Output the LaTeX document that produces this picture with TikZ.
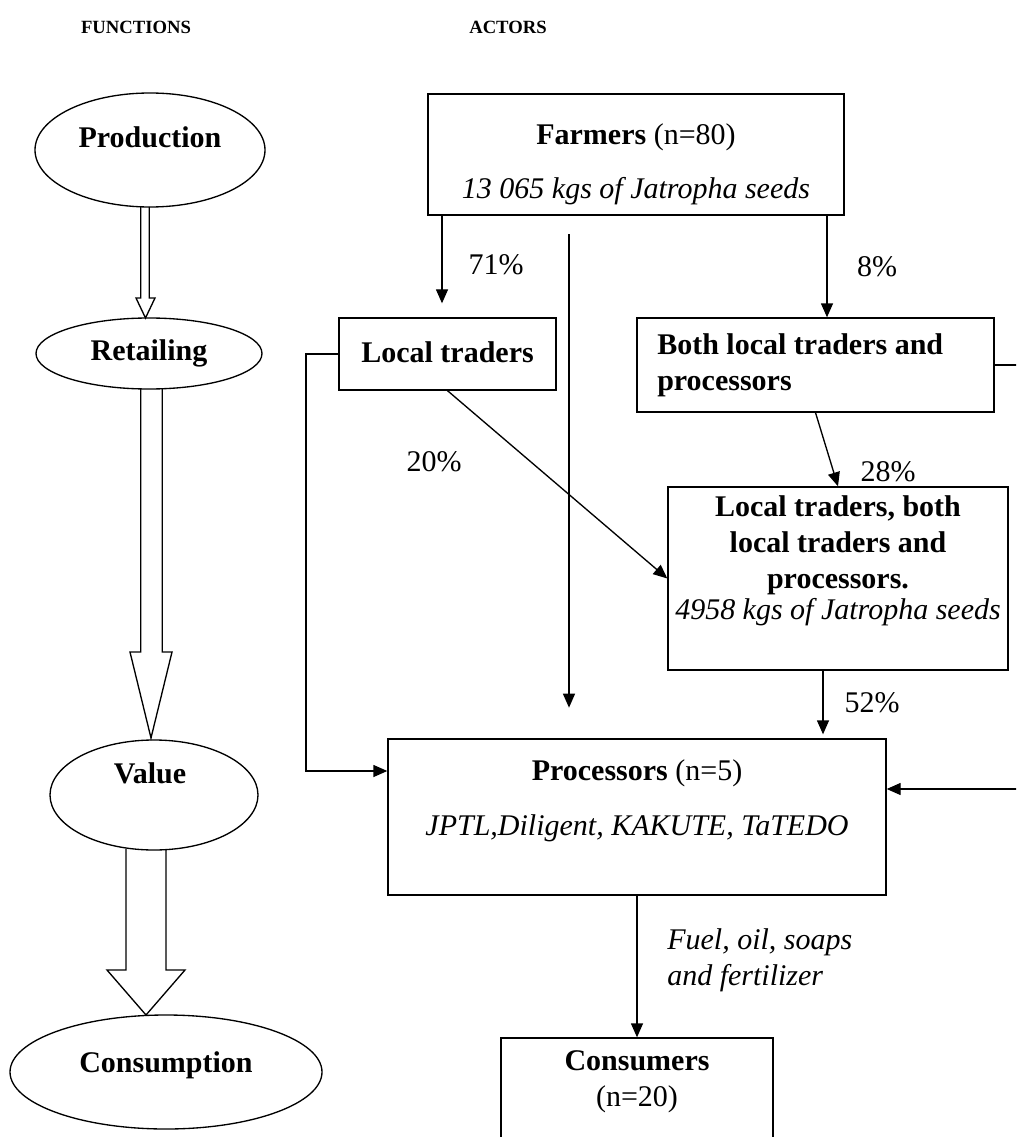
\documentclass[tikz,border=0pt]{standalone}
\usepackage{fontspec}
\setmainfont{Liberation Serif}
\usetikzlibrary{shapes.geometric,arrows.meta,calc}
\newcommand\mytxt{\fontsize{22.5}{27}\selectfont}
\newcommand\mytitle{\fontsize{14}{17}\selectfont}
\def\pxu{0.75pt}
\begin{document}
\begin{tikzpicture}[x=0.75pt,y=-0.75pt,
  box/.style={draw, line width=1pt, rectangle, inner sep=0pt},
  ell/.style={draw, ellipse, line width=1pt, inner sep=0pt},
  txt/.style={inner sep=0pt, font=\mytxt},
  ttl/.style={inner sep=0pt, font=\mytitle\bfseries},
  arr/.style={-{Triangle[length=10.5pt,width=9pt]}, line width=1pt},
  plain/.style={line width=1pt},
  hollow/.style={draw, line width=1pt, line join=miter}]
\useasboundingbox (0,0) rectangle (1016,1137);
\clip (0,0) rectangle (1016,1137);

% titles
\node[ttl] (tfun) at (136,27) {FUNCTIONS};
\node[ttl] (tact) at (508,27) {ACTORS};

% function ellipses
\node[ell, minimum width=230*\pxu, minimum height=114*\pxu] (prod) at (150,150) {};
\node[txt] (prodt) at (150,137) {\textbf{Production}};
\node[ell, minimum width=226*\pxu, minimum height=71*\pxu] (ret) at (149,353.5) {};
\node[txt] (rett) at (149,353) {\textbf{Retailing}};
\node[ell, minimum width=208*\pxu, minimum height=110*\pxu] (val) at (154,795) {};
\node[txt] (valt) at (150,773) {\textbf{Value}};
\node[ell, minimum width=312*\pxu, minimum height=114*\pxu] (cons) at (166,1072) {};
\node[txt] (const) at (166,1065) {\textbf{Consumption}};

% hollow block arrows
\draw[hollow] (140.7,207) -- (140.7,298) -- (136,298) -- (145.5,318) -- (155,298) -- (149.3,298) -- (149.3,207);
\draw[hollow] (140.7,389) -- (140.7,652) -- (130,652) -- (151,738) -- (172,652) -- (162.3,652) -- (162.3,389);
\draw[hollow] (126,849) -- (126,970) -- (107,970) -- (146,1015) -- (185,970) -- (166,970) -- (166,849);

% actor boxes
\node[box, minimum width=416*\pxu, minimum height=121*\pxu] (farm) at (636,154.5) {};
\node[txt] (farmt1) at (636,137) {\textbf{Farmers} (n=80)};
\node[txt] (farmt2) at (636,191) {\itshape 13 065 kgs of Jatropha seeds};

\node[box, minimum width=217*\pxu, minimum height=72*\pxu] (lt) at (447.5,354) {};
\node[txt] (ltt) at (447.5,352) {\textbf{Local traders}};

\node[box, minimum width=357*\pxu, minimum height=94*\pxu] (both) at (815.5,365) {};
\node[txt, anchor=west, align=left] (botht) at (657,365) {\textbf{Both local traders and}\\\textbf{processors}};

\node[box, minimum width=340*\pxu, minimum height=183*\pxu] (ltb) at (838,578.5) {};
\node[txt, align=center] (ltbt) at (838,561) {\textbf{Local traders, both}\\\textbf{local traders and}\\\textbf{processors.}\\[-4pt]\itshape 4958 kgs of Jatropha seeds};

\node[box, minimum width=498*\pxu, minimum height=156*\pxu] (proc) at (637,817) {};
\node[txt] (proct1) at (637,773) {\textbf{Processors} (n=5)};
\node[txt] (proct2) at (637,828) {\itshape JPTL,Diligent, KAKUTE, TaTEDO};

\node[box, minimum width=272*\pxu, minimum height=110*\pxu] (consu) at (637,1093) {};
\node[txt, align=center] (consut) at (637,1082) {\textbf{Consumers}\\(n=20)};

% helper coordinates
\coordinate (x71) at (442,0);
\coordinate (xlong) at (569,0);
\coordinate (x8) at (827,0);
\coordinate (x52) at (823,0);
\coordinate (lbend) at (306,771);
\coordinate (rbend) at (1030,789);

% connectors
\draw[arr, shorten >=10.5pt] (farm.south -| x71) -- (lt.north -| x71);
\draw[arr, shorten <=14pt, shorten >=23pt] (farm.south -| xlong) -- (proc.north -| xlong);
\draw[arr] (farm.south -| x8) -- (both.north -| x8);
\draw[arr] (lt.south) -- (ltb.west);
\draw[arr] (both.south) -- (ltb.north);
\draw[arr, shorten >=3pt] (ltb.south -| x52) -- (proc.north -| x52);
\draw[arr] (lt.west) -| (lbend) -- (proc.west |- lbend);
\draw[arr] (both.east) -| (rbend) -- (proc.east |- rbend);
\draw[arr] (proc.south) -- (consu.north);

% labels
\node[txt] (l71) at (496,265) {71\%};
\node[txt] (l8) at (877,267) {8\%};
\node[txt] (l20) at (434,462) {20\%};
\node[txt] (l28) at (888,472) {28\%};
\node[txt] (l52) at (872,703) {52\%};
\node[txt, anchor=west, align=left] (lfuel) at (667,960) {\itshape Fuel, oil, soaps\\\itshape and fertilizer};
\end{tikzpicture}
\end{document}
